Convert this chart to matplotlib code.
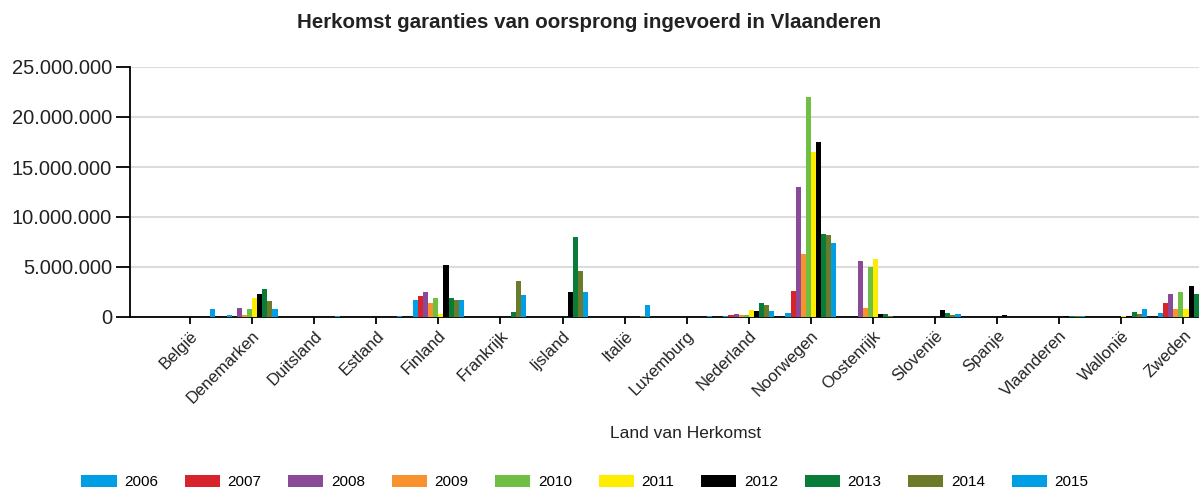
import numpy as np
import matplotlib.pyplot as plt
from matplotlib.ticker import FuncFormatter

plt.rcParams['font.family'] = ['Liberation Sans', 'DejaVu Sans']

countries = ['België', 'Denemarken', 'Duitsland', 'Estland', 'Finland', 'Frankrijk',
             'Ijsland', 'Italië', 'Luxemburg', 'Nederland', 'Noorwegen', 'Oostenrijk',
             'Slovenië', 'Spanje', 'Vlaanderen', 'Wallonië', 'Zweden']
years = ['2006', '2007', '2008', '2009', '2010', '2011', '2012', '2013', '2014', '2015']
colors = ['#009fe3', '#d7242c', '#8b4a97', '#f7922f', '#6fbf44',
          '#ffed00', '#000000', '#0a7c3a', '#6b7b2a', '#009fe3']

# values in millions, one list per year (country order as above)
v2006 = [0, 0.17, 0, 0, 1.73, 0, 0, 0, 0, 0.13, 0.37, 0, 0, 0, 0, 0, 0.43]
v2007 = [0, 0.05, 0, 0, 2.07, 0, 0, 0, 0, 0.20, 2.57, 0, 0, 0, 0, 0, 1.43]
v2008 = [0, 0.95, 0, 0, 2.53, 0, 0, 0, 0, 0.33, 13.03, 5.60, 0, 0, 0, 0, 2.33]
v2009 = [0, 0.20, 0, 0, 1.40, 0, 0, 0, 0, 0.17, 6.30, 0.93, 0, 0, 0, 0, 0.77]
v2010 = [0, 0.78, 0, 0, 1.87, 0, 0, 0, 0, 0.17, 21.97, 5.00, 0, 0, 0, 0, 2.50]
v2011 = [0, 1.90, 0, 0, 0.33, 0, 0, 0, 0, 0.73, 16.53, 5.77, 0, 0, 0, 0.12, 0.77]
v2012 = [0, 2.33, 0, 0, 5.17, 0, 2.53, 0, 0, 0.60, 17.47, 0.33, 0.67, 0.17, 0.15, 0.12, 3.13]
v2013 = [0, 2.83, 0, 0, 1.90, 0.47, 8.00, 0, 0, 1.40, 8.33, 0.30, 0.43, 0, 0.12, 0.47, 2.33]
v2014 = [0, 1.57, 0, 0, 1.73, 3.60, 4.57, 0.15, 0, 1.23, 8.20, 0.15, 0.17, 0, 0.10, 0.35, 3.73]
v2015 = [0.80, 0.78, 0.10, 0.15, 1.73, 2.23, 2.55, 1.25, 0.10, 0.60, 7.40, 0, 0.33, 0, 0.12, 0.77, 1.50]
series = [v2006, v2007, v2008, v2009, v2010, v2011, v2012, v2013, v2014, v2015]

fig = plt.figure(figsize=(11.99, 4.90), dpi=100)
ax = fig.add_axes([130 / 1199, 173 / 490, 1069 / 1199, 250 / 490])

x = np.arange(len(countries))
w = 0.082
handles = []
for i, (vals, c) in enumerate(zip(series, colors)):
    b = ax.bar(x + (i - 4.5) * w, np.array(vals) * 1e6, width=w, color=c, label=years[i], zorder=3)
    handles.append(b)

ax.set_xlim(-0.966, 16.25)
ax.set_ylim(0, 25e6)
ax.set_yticks(np.arange(0, 25e6 + 1, 5e6))
ax.yaxis.set_major_formatter(FuncFormatter(lambda v, p: f"{int(v):,}".replace(',', '.')))
ax.grid(axis='y', color='#dcdcdc', lw=1.5, zorder=0)
for s in ['top', 'right']:
    ax.spines[s].set_visible(False)
ax.spines['left'].set_linewidth(1.3)
ax.spines['bottom'].set_linewidth(1.3)
ax.tick_params(axis='y', length=10, width=1.3, labelsize=14.5, labelcolor='#222222', pad=3)
ax.tick_params(axis='x', length=5, width=1.3, labelsize=12, labelcolor='#222222', pad=3)

ax.set_xticks(x)
ax.set_xticklabels(countries, rotation=45, ha='right', rotation_mode='anchor')

ax.set_xlabel('Land van Herkomst', fontsize=12.5, color='#222222')
ax.xaxis.set_label_coords((686 - 130) / 1069, -0.435)

fig.text(589 / 1199, 1 - 22 / 490, 'Herkomst garanties van oorsprong ingevoerd in Vlaanderen',
         ha='center', va='center', fontsize=14.8, fontweight='bold', color='#222222')

fig.legend(handles, years, loc='center', bbox_to_anchor=(585 / 1199, 1 - 482 / 490), ncol=10,
           frameon=False, fontsize=11, handlelength=2.3, handleheight=0.9,
           handletextpad=0.5, columnspacing=1.75)

fig.savefig('out.png', dpi=100)
